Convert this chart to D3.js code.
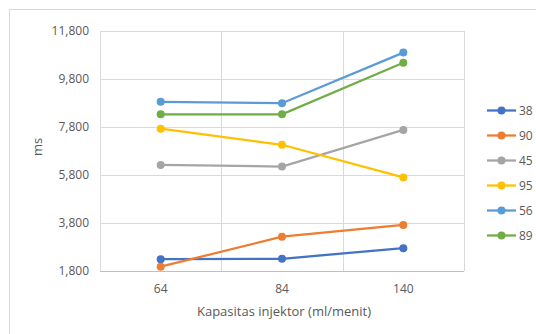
<!DOCTYPE html>
<html><head><meta charset="utf-8">
<script src="https://cdn.jsdelivr.net/npm/d3@7"></script>
<style>body{margin:0;background:#fff}svg{display:block}text{font-family:"Open Sans",sans-serif;fill:#595959}</style>
</head><body><svg id="c" width="536" height="334"></svg>
<script>
const categories = ["64", "84", "140"];
const seriesNames = ["38", "90", "45", "95", "56", "89"];
const s38 = [2290, 2310, 2750];
const s90 = [1980, 3230, 3720];
const s45 = [6220, 6150, 7680];
const s95 = [7730, 7060, 5700];
const s56 = [8850, 8790, 10900];
const s89 = [8330, 8330, 10480];
const yTicks = [1800, 3800, 5800, 7800, 9800, 11800];
const colors = ["#4472C4", "#ED7D31", "#A5A5A5", "#FFC000", "#5B9BD5", "#70AD47"];
const series = [s38, s90, s45, s95, s56, s89];

const svg = d3.select("#c");
svg.append("rect").attr("x",9.5).attr("y",9.5).attr("width",540).attr("height",340)
  .attr("fill","#fff").attr("stroke","#d9d9d9");

const x = d3.scaleBand().domain(categories).range([100,464]);
const y = d3.scaleLinear().domain([1800,11800]).range([271,31]);

// horizontal gridlines
svg.append("g").selectAll("line").data(yTicks.slice(1)).join("line")
  .attr("x1",100).attr("x2",464).attr("y1",d=>y(d)+0.5).attr("y2",d=>y(d)+0.5)
  .attr("stroke","#d9d9d9");
// vertical gridlines at band boundaries
const bounds = categories.map(c=>x(c)).concat([x.range()[1]]);
svg.append("g").selectAll("line").data(bounds).join("line")
  .attr("x1",d=>Math.round(d)+0.5).attr("x2",d=>Math.round(d)+0.5).attr("y1",31).attr("y2",271)
  .attr("stroke","#d9d9d9");
// bottom axis line
svg.append("line").attr("x1",100).attr("x2",464).attr("y1",271.5).attr("y2",271.5).attr("stroke","#bfbfbf");

// y tick labels
svg.append("g").selectAll("text").data(yTicks).join("text")
  .attr("x",89).attr("y",d=>y(d)).attr("dy","0.35em").attr("text-anchor","end")
  .attr("font-size",12).text(d=>d3.format(",")(d));
// x tick labels
svg.append("g").selectAll("text").data(categories).join("text")
  .attr("x",d=>x(d)+x.bandwidth()/2).attr("y",289).attr("dy","0.35em").attr("text-anchor","middle")
  .attr("font-size",12).text(d=>d);
// axis titles
svg.append("text").attr("x",284).attr("y",311).attr("dy","0.35em").attr("text-anchor","middle")
  .attr("font-size",13).text("Kapasitas injektor (ml/menit)");
svg.append("text").attr("transform","translate(37,147) rotate(-90)").attr("dy","0.35em")
  .attr("text-anchor","middle").attr("font-size",13).text("ms");

const line = d3.line().x((d,i)=>x(categories[i])+x.bandwidth()/2).y(d=>y(d));
series.forEach((s,k)=>{
  const g = svg.append("g");
  g.append("path").attr("d",line(s)).attr("fill","none").attr("stroke",colors[k]).attr("stroke-width",2.25);
  g.selectAll("circle").data(s).join("circle")
    .attr("cx",(d,i)=>x(categories[i])+x.bandwidth()/2).attr("cy",d=>y(d)).attr("r",4)
    .attr("fill",colors[k]);
});

// legend
const lg = svg.append("g");
seriesNames.forEach((n,k)=>{
  const yy = 110.5 + k*25;
  lg.append("line").attr("x1",487).attr("x2",516).attr("y1",yy).attr("y2",yy)
    .attr("stroke",colors[k]).attr("stroke-width",2.25);
  lg.append("circle").attr("cx",501.5).attr("cy",yy).attr("r",4).attr("fill",colors[k]);
  lg.append("text").attr("x",519).attr("y",yy).attr("dy","0.35em").attr("font-size",12).text(n);
});
</script></body></html>
